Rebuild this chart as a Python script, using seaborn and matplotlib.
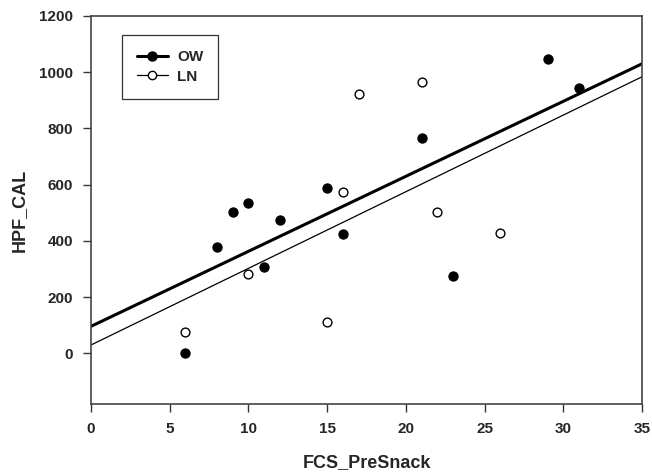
import pandas as pd
import numpy as np
import matplotlib
matplotlib.use("Agg")
import matplotlib.pyplot as plt
from matplotlib.lines import Line2D
import seaborn as sns

# Data
ow_x = [6, 8, 9, 10, 11, 12, 15, 16, 21, 23, 29, 31]
ow_y = [2, 379, 504, 536, 308, 474, 589, 424, 766, 276, 1047, 945]
ln_x = [6, 10, 15, 16, 17, 21, 22, 26]
ln_y = [77, 283, 112, 573, 921, 966, 503, 429]

x_ticks = [0, 5, 10, 15, 20, 25, 30, 35]
y_ticks = [0, 200, 400, 600, 800, 1000, 1200]

sns.set_style("ticks")
plt.rcParams['font.family'] = ['Liberation Sans', 'DejaVu Sans']
plt.rcParams['font.weight'] = 'bold'

df_ow = pd.DataFrame({'FCS_PreSnack': ow_x, 'HPF_CAL': ow_y})
df_ln = pd.DataFrame({'FCS_PreSnack': ln_x, 'HPF_CAL': ln_y})

fig = plt.figure(figsize=(6.52, 4.73), dpi=100)
ax = fig.add_axes([0.1396, 0.1459, 0.8451, 0.8203])
ax.set_xlim(0, 35)
ax.set_ylim(-180, 1200)

# separate linear fits per group, stretched over the full x range
sns.regplot(data=df_ow, x='FCS_PreSnack', y='HPF_CAL', ax=ax, ci=None, truncate=False,
            scatter_kws=dict(s=44, color='black', edgecolor='black', linewidths=0.8,
                             alpha=1, zorder=3),
            line_kws=dict(color='black', linewidth=2.2))
sns.regplot(data=df_ln, x='FCS_PreSnack', y='HPF_CAL', ax=ax, ci=None, truncate=False,
            scatter_kws=dict(s=40, facecolor='white', edgecolor='black', linewidths=1.0,
                             alpha=1, zorder=3),
            line_kws=dict(color='black', linewidth=0.9))

ax.set_xlim(0, 35)
ax.set_ylim(-180, 1200)
ax.set_xticks(x_ticks)
ax.set_yticks(y_ticks)
ax.tick_params(axis='both', direction='out', length=6, width=1, color='#333333',
               labelsize=11, pad=7)
for lab in ax.get_xticklabels() + ax.get_yticklabels():
    lab.set_fontweight('bold')

for side in ['left', 'bottom', 'top', 'right']:
    ax.spines[side].set_visible(True)
    ax.spines[side].set_color('#444444')
    ax.spines[side].set_linewidth(1.2)

ax.set_xlabel('FCS_PreSnack', fontsize=13, fontweight='bold', labelpad=13)
ax.set_ylabel('HPF_CAL', fontsize=13, fontweight='bold', labelpad=8)

handles = [
    Line2D([], [], color='black', linewidth=2.2, marker='o', markersize=6.5,
           markerfacecolor='black', markeredgecolor='black'),
    Line2D([], [], color='black', linewidth=0.9, marker='o', markersize=6,
           markerfacecolor='white', markeredgecolor='black'),
]
leg = ax.legend(handles, ['OW', 'LN'], loc='upper left', bbox_to_anchor=(0.056, 0.951),
                frameon=True, fancybox=False, edgecolor='#333333', framealpha=1,
                handlelength=2.0, borderpad=1.0, labelspacing=0.35, handletextpad=0.6,
                borderaxespad=0, prop=dict(size=11, weight='bold'))
leg.get_frame().set_linewidth(0.9)

plt.savefig('out.png', dpi=100)
